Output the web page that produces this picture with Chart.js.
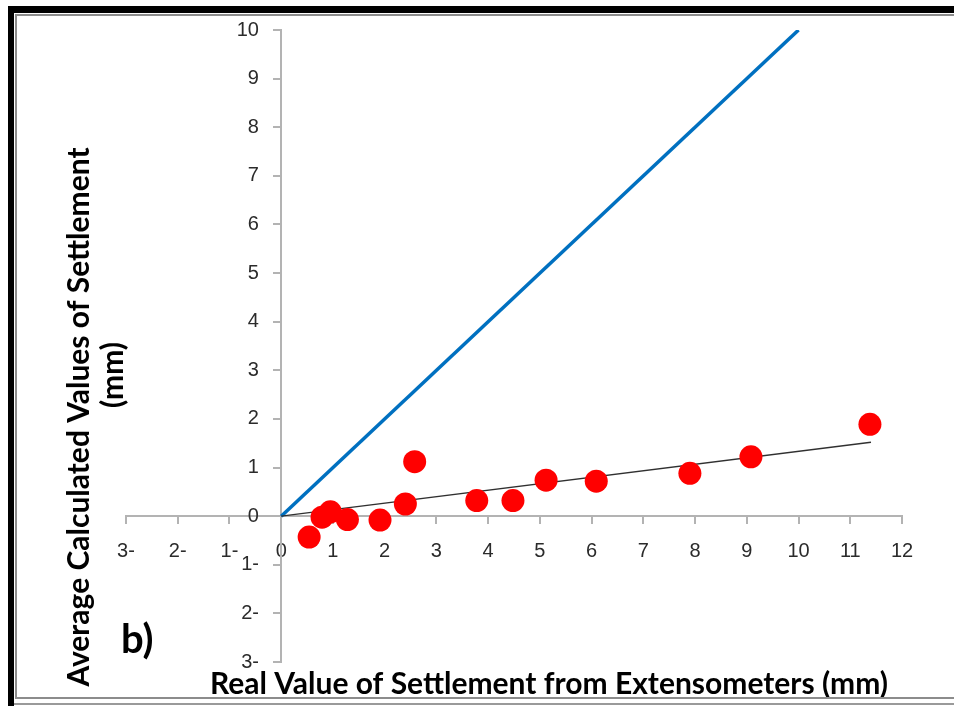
<!DOCTYPE html>
<html>
<head>
<meta charset="utf-8">
<script src="https://cdn.jsdelivr.net/npm/chart.js@4.4.1/dist/chart.umd.min.js"></script>
<style>
  html, body { margin: 0; padding: 0; background: #fff; overflow: hidden; }
  #wrap { width: 955px; height: 706px; position: relative; overflow: hidden; }
  #chart { display: block; position: absolute; left: 0; top: 0; }
  .band { position: absolute; background: #000; }
  #bandTop { left: 8px; top: 6px; width: 946px; height: 7px; }
  #bandLeft { left: 8px; top: 6px; width: 6px; height: 700px; }
  #rule { position: absolute; left: 15px; top: 14px; width: 939px; height: 685px;
          border-top: 2px solid #8c8c8c; border-left: 2px solid #8c8c8c; border-bottom: 2px solid #8c8c8c;
          box-sizing: border-box; pointer-events: none; }
  #ruleBottom { position: absolute; left: 14px; top: 703px; width: 940px; height: 0;
                border-top: 2px solid #9a9a9a; }
</style>
</head>
<body>
<div id="wrap">
  <canvas id="chart" width="955" height="706"></canvas>
  <div id="rule"></div>
  <div id="ruleBottom"></div>
  <div class="band" id="bandTop"></div>
  <div class="band" id="bandLeft"></div>
</div>
<script>
// Measured settlement: extensometer reading (x) vs. averaged calculated value (y), in mm
const realSettlement = [0.54, 0.79, 0.95, 1.28, 1.91, 2.40, 2.58, 3.78, 4.48, 5.12, 6.09, 7.90, 9.08, 11.38];
const calcSettlement = [-0.43, -0.02, 0.09, -0.07, -0.08, 0.25, 1.12, 0.32, 0.32, 0.74, 0.72, 0.88, 1.22, 1.89];

// 1:1 reference line
const equalityX = [0, 10];
const equalityY = [0, 10];

// Linear trend through the origin
const trendX = [0, 11.4];
const trendY = [0, 1.52];

// Axis ranges
const xRange = [-3, 12];
const yRange = [-3, 10];

const xTitle = 'Real Value of Settlement from Extensometers (mm)';
const yTitleLines = ['Average Calculated Values of Settlement', '(mm)'];
const panelLabel = 'b)';

const toPoints = (xs, ys) => xs.map((x, i) => ({ x, y: ys[i] }));
// Negative values are written with a trailing minus sign
const tickText = v => (v < 0 ? Math.abs(v) + '-' : String(v));
// The crossing y axis right-aligns its labels on the axis line, so pad them with spaces
const yTickText = v => tickText(v) + '    ';

const backgroundPlugin = {
  id: 'background',
  beforeDraw(chart) {
    const ctx = chart.ctx;
    ctx.save();
    ctx.fillStyle = '#ffffff';
    ctx.fillRect(0, 0, chart.width, chart.height);
    ctx.restore();
  }
};

const titlePlugin = {
  id: 'titles',
  afterDraw(chart) {
    const ctx = chart.ctx;
    ctx.save();
    ctx.fillStyle = '#000000';
    ctx.textAlign = 'center';
    ctx.textBaseline = 'middle';
    // size the title font so the x title spans its measured width
    ctx.font = 'bold 100px Lato';
    const size = Math.round(100 * 678 / ctx.measureText(xTitle).width * 10) / 10;
    ctx.font = 'bold ' + size + 'px Lato';
    ctx.fillText(xTitle, 549, 684);
    ctx.translate(79, 417);
    ctx.rotate(-Math.PI / 2);
    ctx.fillText(yTitleLines[0], 0, 0);
    ctx.fillText(yTitleLines[1], 42, 34);
    ctx.restore();

    ctx.save();
    ctx.fillStyle = '#000000';
    ctx.font = 'bold 40px Lato';
    ctx.textAlign = 'left';
    ctx.textBaseline = 'middle';
    ctx.fillText(panelLabel, 121, 640);
    ctx.restore();
  }
};

const axisColor = '#b3b3b3';
const tickFont = { family: '"Liberation Sans", Arial, sans-serif', size: 20 };

new Chart(document.getElementById('chart'), {
  type: 'scatter',
  data: {
    datasets: [
      {
        label: 'Equality',
        type: 'line',
        data: toPoints(equalityX, equalityY),
        borderColor: '#0070c0',
        borderWidth: 3.5,
        pointRadius: 0,
        fill: false,
        order: 2
      },
      {
        label: 'Trend',
        type: 'line',
        data: toPoints(trendX, trendY),
        borderColor: '#303030',
        borderWidth: 1.3,
        pointRadius: 0,
        fill: false,
        order: 1
      },
      {
        label: 'Settlement',
        data: toPoints(realSettlement, calcSettlement),
        backgroundColor: '#ff0000',
        borderWidth: 0,
        pointRadius: 11.5,
        pointHoverRadius: 11.5,
        order: 0
      }
    ]
  },
  options: {
    responsive: false,
    animation: false,
    devicePixelRatio: 1,
    layout: { padding: { left: 126, right: 53, top: 30, bottom: 44 }, autoPadding: false },
    plugins: { legend: { display: false }, tooltip: { enabled: false } },
    scales: {
      x: {
        type: 'linear',
        min: xRange[0],
        max: xRange[1],
        position: { y: 0 },
        border: { display: true, color: axisColor, width: 2 },
        grid: { display: true, drawOnChartArea: false, drawTicks: true, tickLength: 7, color: axisColor, lineWidth: 2 },
        ticks: { stepSize: 1, autoSkip: false, maxRotation: 0, padding: 16, color: '#2b2b2b', font: tickFont, callback: tickText }
      },
      y: {
        type: 'linear',
        min: yRange[0],
        max: yRange[1],
        position: { x: 0 },
        border: { display: true, color: axisColor, width: 2 },
        grid: { display: true, drawOnChartArea: false, drawTicks: true, tickLength: 7, color: axisColor, lineWidth: 2 },
        ticks: { stepSize: 1, autoSkip: false, padding: 11, color: '#2b2b2b', font: tickFont, callback: yTickText }
      }
    }
  },
  plugins: [backgroundPlugin, titlePlugin]
});
</script>
</body>
</html>
